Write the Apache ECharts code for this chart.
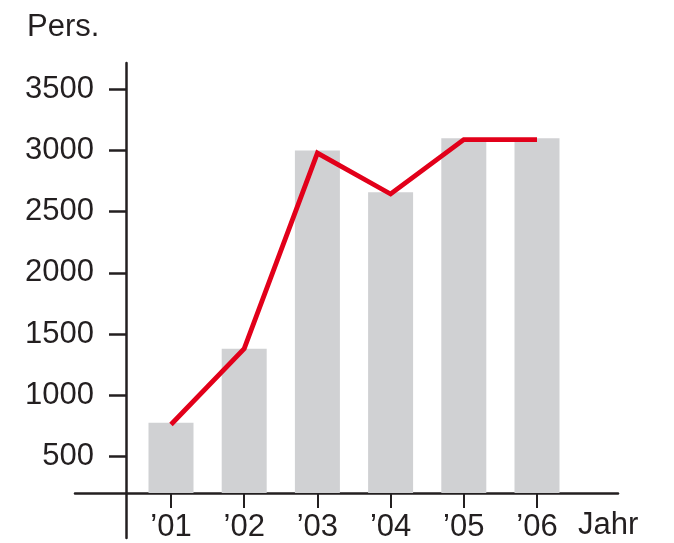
<!DOCTYPE html>
<html><head><meta charset="utf-8">
<script src="https://cdn.jsdelivr.net/npm/echarts@6/dist/echarts.min.js"></script>
<style>html,body{margin:0;padding:0;background:#fff}#c{width:674px;height:543px}</style>
</head><body><div id="c"></div>
<script>
const categories = ["\u201901","\u201902","\u201903","\u201904","\u201905","\u201906"];
const barValues = [775, 1380, 3000, 2660, 3100, 3100];
const lineValues = [760, 1380, 2980, 2645, 3090, 3090];
const yTicks = [500, 1000, 1500, 2000, 2500, 3000, 3500];

const ink = '#231f20';
const font = 'Liberation Sans, Arial, sans-serif';
const fs = 31;
const chart = echarts.init(document.getElementById('c'), null, {renderer:'canvas'});
chart.setOption({
  animation:false,
  grid:[
    {left:134.4, right:100.4, top:65, bottom:49.5},
    {left:126, right:547, top:63, bottom:5},
    {left:75, right:56, top:63, bottom:49.5}
  ],
  xAxis:[
    {gridIndex:0, type:'category', data:categories, boundaryGap:true,
     axisLine:{show:false},
     axisTick:{show:true, alignWithLabel:true, length:15, lineStyle:{color:ink, width:2}},
     axisLabel:{color:ink, fontSize:fs, fontFamily:font, margin:19}},
    {gridIndex:1, type:'value', show:false},
    {gridIndex:2, type:'value', min:0, max:1, position:'bottom',
     axisLine:{show:true, lineStyle:{color:ink, width:2.5}},
     axisTick:{show:false}, axisLabel:{show:false}, splitLine:{show:false}}
  ],
  yAxis:[
    {gridIndex:0, type:'value', min:200, max:3700, interval:500,
     offset:8.4,
     axisLine:{show:false},
     axisTick:{show:true, length:17, lineStyle:{color:ink, width:2.5},
       customValues: yTicks},
     axisLabel:{color:ink, fontSize:fs, fontFamily:font, margin:32,
       customValues: yTicks, formatter: v => String(v)},
     splitLine:{show:false}},
    {gridIndex:1, type:'value', min:0, max:1, position:'left',
     axisLine:{show:true, lineStyle:{color:ink, width:2.5}},
     axisTick:{show:false}, axisLabel:{show:false}, splitLine:{show:false}},
    {gridIndex:2, type:'value', show:false}
  ],
  series:[
    {type:'bar', xAxisIndex:0, yAxisIndex:0, data:barValues, barWidth:45,
     itemStyle:{color:'#d0d1d3'}},
    {type:'line', xAxisIndex:0, yAxisIndex:0, data:lineValues, symbol:'none',
     lineStyle:{color:'#e2001a', width:4.8, cap:'butt', join:'miter'}}
  ],
  graphic:[
    {type:'text', left:27, top:12, style:{text:'Pers.', fill:ink, font:fs+'px '+font}},
    {type:'text', left:578, top:510, style:{text:'Jahr', fill:ink, font:fs+'px '+font}}
  ]
});
</script></body></html>
